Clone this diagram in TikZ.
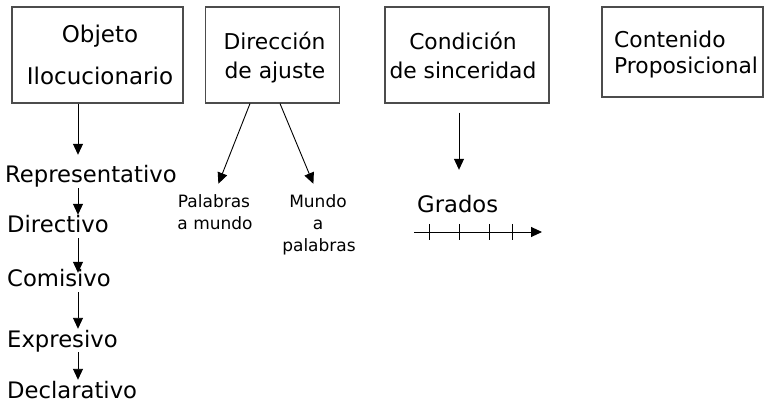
\documentclass[tikz,border=0pt]{standalone}
\usepackage{fontspec}
\setmainfont{DejaVu Sans}
\usetikzlibrary{arrows.meta}
\begin{document}
\begin{tikzpicture}[x=1pt,y=-1pt,
  box/.style={draw=black!70, line width=1.1pt, inner sep=0pt},
  boxtxt/.style={inner sep=0pt, anchor=base, font=\fontsize{21.8}{26}\selectfont},
  boxtxtl/.style={inner sep=0pt, anchor=base west, font=\fontsize{21.8}{26}\selectfont},
  word/.style={inner sep=0pt, anchor=base west, text height=18pt, text depth=5pt, font=\fontsize{22.7}{26}\selectfont},
  small/.style={inner sep=0pt, anchor=base, font=\fontsize{17}{22}\selectfont},
  arr/.style={line width=0.9pt, -{Triangle[length=11pt,width=10pt]}},
  tick/.style={line width=0.9pt},
]
\useasboundingbox (0,0) rectangle (768,403);
% boxes
\node[box, minimum width=171pt, minimum height=96pt] (b1) at (97.5,55) {};
\node[box, minimum width=134pt, minimum height=96pt] (b2) at (272.5,55) {};
\node[box, minimum width=164pt, minimum height=96pt] (b3) at (467,55) {};
\node[box, minimum width=161pt, minimum height=90pt] (b4) at (682.5,52) {};
% box texts
\node[boxtxt, font=\fontsize{23}{26}\selectfont] (t1a) at (100,43) {Objeto};
\node[boxtxt, font=\fontsize{23}{26}\selectfont] (t1b) at (100,85) {Ilocucionario};
\node[boxtxt] (t2a) at (274.5,50) {Dirección};
\node[boxtxt] (t2b) at (275,79) {de ajuste};
\node[boxtxt] (t3a) at (463,50) {Condición};
\node[boxtxt] (t3b) at (463,79) {de sinceridad};
\node[boxtxtl] (t4a) at (614,48) {Contenido};
\node[boxtxtl] (t4b) at (614,74) {Proposicional};
% left column
\node[word] (rep) at (5,183) {Representativo};
\node[word] (dir) at (7,233) {Directivo};
\node[word] (com) at (7,287) {Comisivo};
\node[word] (exp) at (7,347) {Expresivo};
\node[word] (dec) at (7,398) {Declarativo};
\coordinate (lc) at (78,0);
\draw[arr, shorten >=10pt] (b1.south -| lc) -- (rep.north -| lc);
\draw[arr] (rep.south -| lc) -- (dir.north -| lc);
\draw[arr, shorten >=-4pt] (dir.south -| lc) -- (com.north -| lc);
\draw[arr] (com.south -| lc) -- (exp.north -| lc);
\draw[arr] (exp.south -| lc) -- (dec.north -| lc);
% direccion de ajuste
\node[small] (pal1) at (214,208) {Palabras};
\node[small] (pal2) at (215,230) {a mundo};
\node[small] (mun1) at (318,208) {Mundo};
\node[small] (mun2) at (318,230) {a};
\node[small] (mun3) at (319,252) {palabras};
\coordinate (la) at (250,0);
\coordinate (ra) at (280,0);
\draw[arr, shorten >=12pt] (b2.south -| la) -- (pal1.north);
\draw[arr, shorten >=12pt] (b2.south -| ra) -- (mun1.north);
% condicion de sinceridad
\node[word] (gr) at (417,213) {Grados};
\coordinate (gc) at (459,0);
\draw[arr, shorten <=9pt, shorten >=25pt] (b3.south -| gc) -- (gr.north -| gc);
\coordinate (ax0) at (414,232);
\coordinate (ax1) at (542,232);
\draw[arr] (ax0) -- (ax1);
\foreach \tx in {429,459,489,512} \draw[tick] (\tx,224) -- (\tx,240);
\end{tikzpicture}
\end{document}
